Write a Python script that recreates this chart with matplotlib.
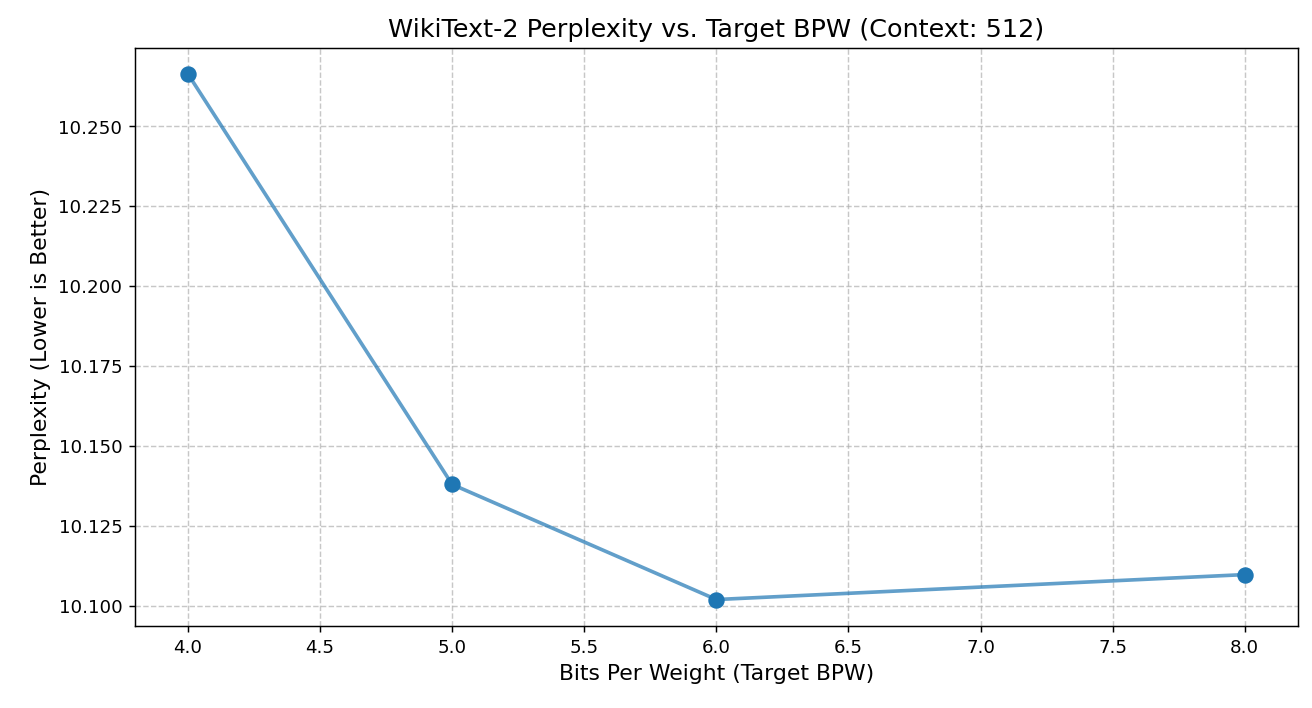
import matplotlib
matplotlib.use("Agg")
import matplotlib.pyplot as plt

bpw = [4.0, 5.0, 6.0, 8.0]
ppl = [10.2663, 10.1379, 10.1019, 10.1097]

fig = plt.figure(figsize=(10, 5.4), dpi=131.2)
ax = fig.add_axes([0.103, 0.116, 0.886, 0.816])
ax.plot(bpw, ppl, color="tab:blue", alpha=0.7, linewidth=2, zorder=2)
ax.plot(bpw, ppl, "o", color="tab:blue", markersize=8, zorder=3)
ax.set_title("WikiText-2 Perplexity vs. Target BPW (Context: 512)", fontsize=14)
ax.set_xlabel("Bits Per Weight (Target BPW)", fontsize=12)
ax.set_ylabel("Perplexity (Lower is Better)", fontsize=12)
ax.grid(True, linestyle="--", alpha=0.7)
ax.yaxis.set_major_formatter(matplotlib.ticker.FormatStrFormatter("%.3f"))
fig.savefig("out.png", dpi=131.2)
